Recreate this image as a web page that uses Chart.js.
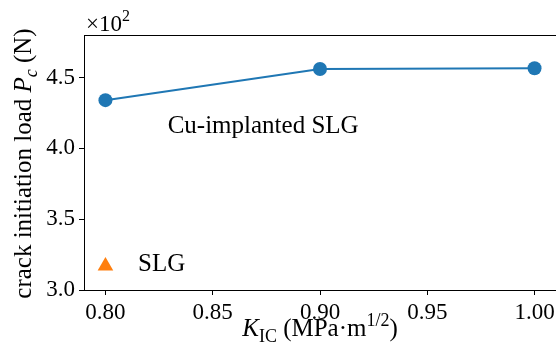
<!DOCTYPE html>
<html>
<head>
<meta charset="utf-8">
<script src="https://cdn.jsdelivr.net/npm/chart.js@4.4.1/dist/chart.umd.min.js"></script>
<style>
html, body { margin: 0; padding: 0; background: #fff; }
</style>
</head>
<body>
<canvas id="myChart" width="556" height="352"></canvas>
<script>
const kicValues = [0.80, 0.90, 1.00];
const cuSlgLoad = [4.34, 4.56, 4.565];
const slgKic = [0.80];
const slgLoad = [3.17];
const xTicks = [0.80, 0.85, 0.90, 0.95, 1.00];
const yTicks = [3.0, 3.5, 4.0, 4.5];

const SERIF = '"Liberation Serif", "Times New Roman", serif';
const FS = 23;

// draws a list of text pieces (italic / sub / sup) one after the other
function drawRich(ctx, segs, x, y, size, align) {
    let total = 0;
    const parts = segs.map(s => {
        const fs = Math.round((s.sub || s.sup) ? size * 0.7 : size);
        const font = (s.italic ? 'italic ' : '') + fs + 'px ' + SERIF;
        ctx.font = font;
        const w = ctx.measureText(s.t).width;
        total += w;
        return {s, font, w};
    });
    let cx = align === 'left' ? x : x - total / 2;
    parts.forEach(p => {
        ctx.font = p.font;
        let dy = 0;
        if (p.s.sub) dy = size * 0.22;
        if (p.s.sup) dy = -size * 0.42;
        ctx.fillText(p.s.t, cx, y + dy);
        cx += p.w;
    });
}

const textPlugin = {
    id: 'texts',
    afterDraw(chart) {
        const ctx = chart.ctx;
        const area = chart.chartArea;
        const xs = chart.scales.x;
        const ys = chart.scales.y;
        ctx.save();
        ctx.fillStyle = '#000';
        ctx.textBaseline = 'alphabetic';
        ctx.textAlign = 'left';

        // frame
        ctx.strokeStyle = '#000';
        ctx.lineWidth = 1;
        ctx.strokeRect(area.left + 0.5, area.top + 0.5, area.right - area.left, area.bottom - area.top);

        // x title
        drawRich(ctx, [
            {t: 'K', italic: true},
            {t: 'IC', sub: true},
            {t: ' (MPa\u00b7m'},
            {t: '1/2', sup: true},
            {t: ')'}
        ], (area.left + area.right) / 2, 336, 25);

        // y title
        ctx.save();
        ctx.translate(31, (area.top + area.bottom) / 2 + 1);
        ctx.rotate(-Math.PI / 2);
        drawRich(ctx, [
            {t: 'crack initiation load '},
            {t: 'P', italic: true},
            {t: 'c', italic: true, sub: true},
            {t: ' (N)'}
        ], 0, 0, 25);
        ctx.restore();

        // offset text
        drawRich(ctx, [{t: '\u00d710'}, {t: '2', sup: true}], area.left + 2, 31, FS, 'left');

        // series labels
        drawRich(ctx, [{t: 'Cu-implanted SLG'}], xs.getPixelForValue(0.829), ys.getPixelForValue(4.105), 25, 'left');
        drawRich(ctx, [{t: 'SLG'}], xs.getPixelForValue(0.8152), ys.getPixelForValue(3.136), 25, 'left');
        ctx.restore();
    }
};

const chartData = {
    datasets: [{
        label: 'Cu-implanted SLG',
        data: kicValues.map((k, i) => ({x: k, y: cuSlgLoad[i]})),
        borderColor: '#1f77b4',
        backgroundColor: '#1f77b4',
        borderWidth: 2,
        pointRadius: 7,
        pointBorderWidth: 0,
        showLine: true
    }, {
        label: 'SLG',
        data: slgKic.map((k, i) => ({x: k, y: slgLoad[i]})),
        borderColor: '#ff7f0e',
        backgroundColor: '#ff7f0e',
        pointStyle: 'triangle',
        pointRadius: 9,
        pointBorderWidth: 0,
        showLine: false
    }]
};

const config = {
    type: 'scatter',
    data: chartData,
    options: {
        responsive: false,
        devicePixelRatio: 1,
        animation: false,
        layout: {autoPadding: false, padding: {top: 35, right: 0, left: 0, bottom: 0}},
        plugins: {legend: {display: false}, tooltip: {enabled: false}},
        scales: {
            x: {
                type: 'linear',
                min: 0.79,
                max: 1.01,
                afterBuildTicks: s => { s.ticks = xTicks.map(v => ({value: v})); },
                afterFit: s => { s.height = 62; s.paddingLeft = 0; s.paddingRight = 0; },
                grid: {drawOnChartArea: false, drawTicks: true, tickLength: 5, color: '#000'},
                border: {display: true, color: '#000', width: 1},
                ticks: {
                    color: '#000',
                    padding: 4,
                    font: {family: SERIF, size: FS},
                    callback: v => v.toFixed(2)
                }
            },
            y: {
                type: 'linear',
                min: 3.0,
                max: 4.8,
                afterBuildTicks: s => { s.ticks = yTicks.map(v => ({value: v})); },
                afterFit: s => { s.width = 84; s.paddingTop = 0; s.paddingBottom = 0; },
                grid: {drawOnChartArea: false, drawTicks: true, tickLength: 5, color: '#000'},
                border: {display: true, color: '#000', width: 1},
                ticks: {
                    color: '#000',
                    padding: 4,
                    font: {family: SERIF, size: FS},
                    callback: v => v.toFixed(1)
                }
            }
        }
    },
    plugins: [textPlugin]
};

const myChart = new Chart(document.getElementById('myChart'), config);
</script>
</body>
</html>
